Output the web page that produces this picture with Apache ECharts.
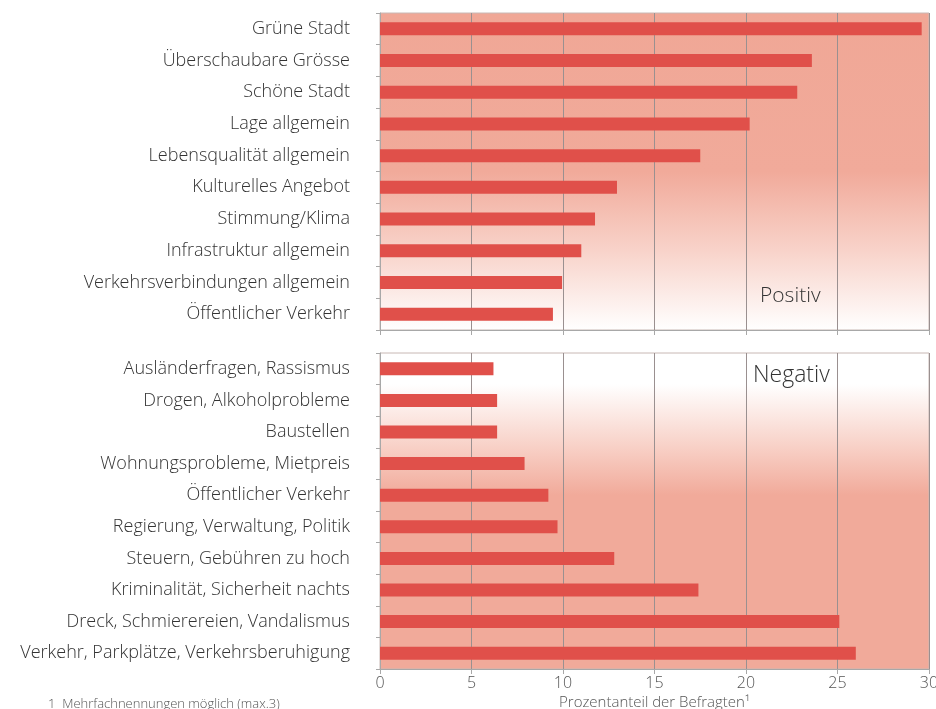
<!DOCTYPE html>
<html>
<head>
<meta charset="utf-8">
<script src="https://cdn.jsdelivr.net/npm/echarts@6/dist/echarts.min.js"></script>
<style>html,body{margin:0;padding:0;background:#fff}#c{width:936px;height:709px}</style>
</head>
<body>
<div id="c"></div>
<script>
const positiveCategories = ["Grüne Stadt","Überschaubare Grösse","Schöne Stadt","Lage allgemein","Lebensqualität allgemein","Kulturelles Angebot","Stimmung/Klima","Infrastruktur allgemein","Verkehrsverbindungen allgemein","Öffentlicher Verkehr"];
const positiveValues = [29.6,23.6,22.8,20.2,17.5,12.95,11.75,11.0,9.95,9.45];
const negativeCategories = ["Ausländerfragen, Rassismus","Drogen, Alkoholprobleme","Baustellen","Wohnungsprobleme, Mietpreis","Öffentlicher Verkehr","Regierung, Verwaltung, Politik","Steuern, Gebühren zu hoch","Kriminalität, Sicherheit nachts","Dreck, Schmierereien, Vandalismus","Verkehr, Parkplätze, Verkehrsberuhigung"];
const negativeValues = [6.2,6.4,6.4,7.9,9.2,9.7,12.8,17.4,25.1,26.0];
const xTicks = [0,5,10,15,20,25,30];

const FONT = 'Open Sans';
const salmon = '#f1aa9a';
const barColor = '#e0504a';
const chart = echarts.init(document.getElementById('c'), null, {renderer:'canvas'});

function xAxisCfg(gridIndex, showLabels){
  return {
    type:'value', gridIndex, min:xTicks[0], max:xTicks[xTicks.length-1], interval:5,
    axisLine:{show:true, lineStyle:{color:'#a8a8a8', width:1}},
    axisTick:{show:true, length:5, lineStyle:{color:'#a8a8a8'}},
    splitLine:{show:true, lineStyle:{color:'#9a9090', width:1}},
    axisLabel:{show:showLabels, color:'#555', fontSize:16, fontFamily:FONT, fontWeight:300, margin:6},
    name: showLabels ? 'Prozentanteil der Befragten¹' : '',
    nameLocation:'middle', nameGap:26,
    nameTextStyle:{color:'#555', fontSize:15, fontFamily:FONT, fontWeight:300}
  };
}
function yAxisCfg(gridIndex, cats){
  return {
    type:'category', gridIndex, data:cats, inverse:true,
    axisLine:{show:true, lineStyle:{color:'#a8a8a8'}},
    axisTick:{show:true, length:4, alignWithLabel:false, lineStyle:{color:'#a8a8a8'}},
    axisLabel:{color:'#333', fontSize:18, fontFamily:FONT, fontWeight:300, margin:30},
    splitLine:{show:false}
  };
}

const option = {
  animation:false,
  backgroundColor:'#ffffff',
  grid:[
    {left:380, right:7, top:13, height:317, containLabel:false, outerBoundsMode:'none', show:true, borderColor:'#c8b8b4', borderWidth:1,
     backgroundColor: new echarts.graphic.LinearGradient(0,0,0,1,[
       {offset:0,color:'#f0a796'},{offset:0.5,color:salmon},{offset:0.75,color:'#f8d3ca'},{offset:1,color:'#ffffff'}])},
    {left:380, right:7, top:353, height:316, containLabel:false, outerBoundsMode:'none', show:true, borderColor:'#c8b8b4', borderWidth:1,
     backgroundColor: new echarts.graphic.LinearGradient(0,0,0,1,[
       {offset:0,color:'#ffffff'},{offset:0.1,color:'#ffffff'},{offset:0.3,color:'#f8d0c6'},{offset:0.45,color:salmon},{offset:1,color:salmon}])}
  ],
  xAxis:[xAxisCfg(0,false), xAxisCfg(1,true)],
  yAxis:[yAxisCfg(0,positiveCategories), yAxisCfg(1,negativeCategories)],
  series:[
    {type:'bar', xAxisIndex:0, yAxisIndex:0, data:positiveValues, barWidth:13, itemStyle:{color:barColor}},
    {type:'bar', xAxisIndex:1, yAxisIndex:1, data:negativeValues, barWidth:13, itemStyle:{color:barColor}}
  ],
  graphic:[
    {type:'text', left:760, top:286, style:{text:'Positiv', fontSize:21, fontFamily:FONT, fontWeight:300, fill:'#333'}},
    {type:'text', left:753, top:364, style:{text:'Negativ', fontSize:23, fontFamily:FONT, fontWeight:300, fill:'#333'}},
    {type:'text', left:48, top:698, style:{text:'1  Mehrfachnennungen möglich (max.3)', fontSize:13, fontFamily:FONT, fontWeight:300, fill:'#555'}}
  ]
};
chart.setOption(option);
</script>
</body>
</html>
